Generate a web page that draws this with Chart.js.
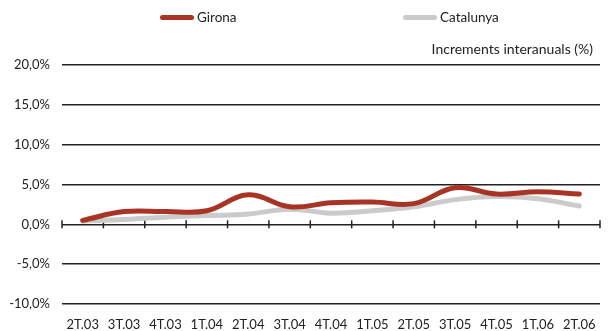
<!DOCTYPE html>
<html>
<head>
<meta charset="utf-8">
<script src="https://cdn.jsdelivr.net/npm/chart.js@4/dist/chart.umd.min.js"></script>
<style>
    body { margin: 0; background: #fff; font-family: Lato, sans-serif; color: #222; }
    #wrap { position: relative; width: 611px; height: 331px; }
    #chart { position: absolute; left: 0; top: 0; }
    .leg { position: absolute; top: 9px; font-size: 13.5px; display: flex; align-items: center; }
    .leg span.sw { display: inline-block; width: 34px; height: 5px; border-radius: 3px; margin-right: 3px; }
    #subtitle { position: absolute; right: 18px; top: 40px; font-size: 14px; }
</style>
</head>
<body>
<div id="wrap">
    <canvas id="chart" width="611" height="331"></canvas>
    <div class="leg" id="leg0" style="left:160px"></div>
    <div class="leg" id="leg1" style="left:403px"></div>
    <div id="subtitle"></div>
</div>
<script>
const labels = ["2T.03", "3T.03", "4T.03", "1T.04", "2T.04", "3T.04", "4T.04", "1T.05", "2T.05", "3T.05", "4T.05", "1T.06", "2T.06"];
const girona = [0.5, 1.6, 1.6, 1.7, 3.7, 2.2, 2.7, 2.8, 2.6, 4.6, 3.8, 4.1, 3.8];
const catalunya = [0.4, 0.6, 0.9, 1.1, 1.3, 1.9, 1.4, 1.7, 2.2, 3.1, 3.5, 3.2, 2.3];
const seriesNames = ["Girona", "Catalunya"];
const seriesColors = ["#a83426", "#cbcbcb"];
const subtitle = "Increments interanuals (%)";

// legend + subtitle as html
seriesNames.forEach((name, i) => {
    const el = document.getElementById("leg" + i);
    el.innerHTML = '<span class="sw" style="background:' + seriesColors[i] + '"></span>' + name;
});
document.getElementById("subtitle").textContent = subtitle;

const tickMarks = {
    id: "tickMarks",
    beforeDatasetsDraw(chart) {
        const x = chart.scales.x;
        const y = chart.scales.y;
        const ctx = chart.ctx;
        const y0 = y.getPixelForValue(0);
        const step = x.getPixelForValue(1) - x.getPixelForValue(0);
        ctx.save();
        ctx.strokeStyle = "#222";
        ctx.lineWidth = 1.5;
        for (let i = 0; i <= labels.length; i++) {
            const px = x.getPixelForValue(i) - step / 2;
            ctx.beginPath();
            ctx.moveTo(px, y0 - 4);
            ctx.lineTo(px, y0 + 4);
            ctx.stroke();
        }
        ctx.restore();
    }
};

const ctx = document.getElementById("chart").getContext("2d");

new Chart(ctx, {
    type: "line",
    data: {
        labels,
        datasets: [
            {
                label: seriesNames[0],
                data: girona,
                borderColor: seriesColors[0],
                borderWidth: 5,
                tension: 0.4,
                pointRadius: 0,
                borderCapStyle: "round",
                order: 0
            },
            {
                label: seriesNames[1],
                data: catalunya,
                borderColor: seriesColors[1],
                borderWidth: 5,
                tension: 0.4,
                pointRadius: 0,
                borderCapStyle: "round",
                order: 1
            }
        ]
    },
    options: {
        responsive: false,
        animation: false,
        layout: { padding: { top: 65, right: 11, left: 0, bottom: 0 } },
        plugins: {
            legend: { display: false },
            tooltip: { enabled: false }
        },
        scales: {
            x: {
                offset: true,
                grid: { display: false },
                border: { display: false },
                ticks: {
                    color: "#222",
                    font: { family: "Lato", size: 13 },
                    padding: 5,
                    maxRotation: 0,
                    autoSkip: false
                },
                afterFit(scale) { scale.height = 27; }
            },
            y: {
                min: -10,
                max: 20,
                ticks: {
                    stepSize: 5,
                    color: "#222",
                    font: { family: "Lato", size: 13 },
                    padding: 12,
                    callback: v => v.toFixed(1).replace(".", ",") + "%"
                },
                grid: { color: "#222", lineWidth: 1.5, drawTicks: false },
                border: { display: false },
                afterFit(scale) { scale.width = 62; }
            }
        }
    },
    plugins: [tickMarks]
});
</script>
</body>
</html>
